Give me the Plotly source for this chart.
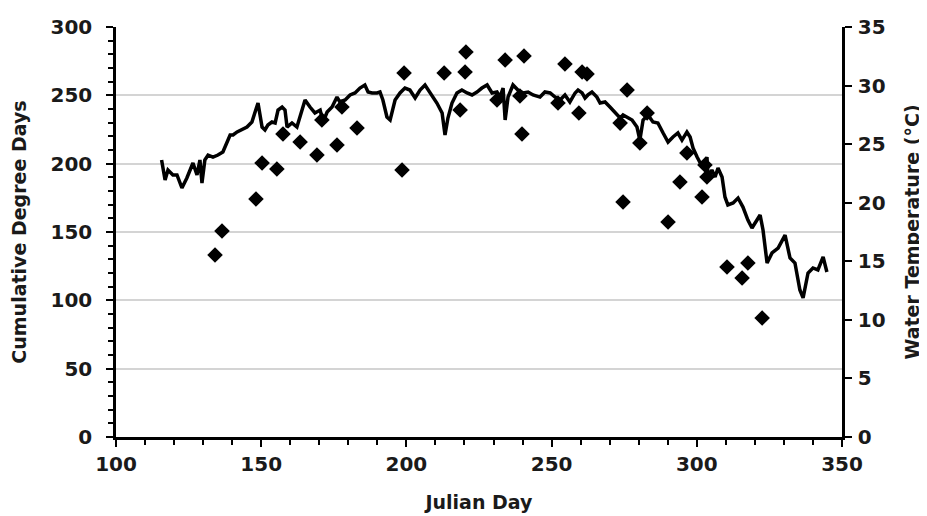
import plotly.graph_objects as go

# Cumulative degree days (diamonds, left axis)
cdd_day = [134.1, 136.5, 148.2, 150.3, 155.4, 157.5, 163.4, 169.2, 170.9, 176.1,
           177.8, 183.0, 198.5, 199.2, 213.0, 218.5, 220.2, 220.5, 231.2, 234.0,
           239.8, 240.5, 239.1, 252.2, 254.6, 260.5, 262.2, 259.4, 273.6, 276.0,
           274.6, 282.9, 280.4, 296.6, 294.2, 302.8, 303.5, 301.8, 290.1, 310.4,
           317.6, 315.6, 322.5]
cdd_val = [133.2, 150.7, 174.1, 200.5, 196.1, 221.7, 215.8, 206.3, 231.9, 213.7,
           241.5, 226.1, 195.4, 266.3, 266.3, 239.3, 267.1, 281.7, 246.6, 275.8,
           221.7, 278.8, 249.5, 244.4, 272.9, 267.1, 265.6, 237.1, 229.7, 253.9,
           171.9, 237.1, 215.1, 207.8, 186.6, 199.0, 190.2, 175.6, 157.3, 124.4,
           127.3, 116.3, 87.1]

# Water temperature (line, right axis)
wt_day = [115.7, 116.9, 117.9, 119.6, 121.0, 122.7, 124.4, 125.5, 126.5, 127.9,
          128.9, 129.6, 130.6, 131.7, 133.4, 135.1, 136.8, 139.3, 140.3, 141.7,
          143.4, 145.1, 146.8, 148.9, 150.3, 151.3, 152.3, 153.7, 154.8, 155.8,
          157.2, 158.2, 158.9, 160.6, 162.3, 165.1, 166.8, 168.5, 170.3, 171.3,
          172.7, 174.4, 176.1, 177.1, 178.9, 180.6, 182.3, 184.0, 185.7, 186.8,
          188.2, 189.9, 190.9, 191.9, 193.3, 194.4, 196.1, 197.8, 199.5, 201.2,
          203.0, 204.7, 206.4, 208.1, 210.5, 212.3, 213.3, 214.3, 215.7, 217.4,
          219.1, 220.9, 222.6, 224.3, 226.0, 227.8, 229.5, 231.2, 232.2, 233.3,
          234.0, 235.0, 236.7, 238.4, 240.2, 241.9, 243.6, 246.0, 247.7, 249.5,
          251.2, 252.9, 254.6, 256.3, 258.1, 259.1, 260.5, 261.5, 262.5, 263.9,
          265.6, 266.7, 268.4, 270.1, 271.8, 273.6, 274.6, 276.0, 277.7, 279.4,
          280.4, 281.5, 283.2, 284.9, 286.6, 288.4, 290.1, 291.8, 293.5, 294.9,
          296.6, 297.7, 298.7, 300.1, 301.1, 302.1, 303.5, 303.9, 305.2, 306.3,
          307.3, 308.7, 309.7, 310.7, 312.5, 314.2, 315.9, 317.6, 319.0, 320.7,
          321.8, 322.8, 324.2, 325.9, 328.0, 330.4, 332.1, 333.8, 335.5, 336.6,
          338.3, 340.0, 341.7, 343.5, 344.8]
wt_val = [23.65, 21.94, 22.79, 22.37, 22.37, 21.26, 22.11, 22.79, 23.39, 22.37,
          23.65, 21.68, 23.65, 24.07, 23.90, 24.07, 24.33, 25.78, 25.78, 26.04,
          26.21, 26.46, 26.89, 28.51, 26.46, 26.21, 26.63, 26.89, 26.81, 27.91,
          28.17, 27.91, 26.46, 26.81, 26.46, 28.77, 28.17, 27.66, 27.91, 26.89,
          27.74, 28.17, 29.02, 28.60, 28.77, 29.20, 29.37, 29.79, 30.05, 29.45,
          29.37, 29.37, 29.45, 28.77, 27.32, 27.06, 28.77, 29.37, 29.79, 29.62,
          28.94, 29.62, 30.05, 29.45, 28.51, 27.66, 25.78, 27.23, 28.51, 29.37,
          29.62, 29.37, 29.20, 29.45, 29.79, 30.05, 29.37, 29.45, 29.02, 29.79,
          27.06, 29.02, 30.05, 29.62, 29.37, 29.45, 29.20, 29.02, 29.45, 29.37,
          29.02, 28.77, 29.20, 28.60, 29.37, 29.62, 29.37, 28.94, 29.20, 29.45,
          29.02, 28.51, 28.60, 28.17, 27.66, 27.23, 27.49, 27.32, 27.06, 26.46,
          25.35, 27.06, 27.49, 26.89, 26.81, 25.95, 25.18, 25.61, 25.95, 25.35,
          26.04, 25.61, 24.67, 23.90, 23.39, 22.96, 23.90, 22.20, 22.79, 22.20,
          22.96, 22.20, 20.49, 19.81, 19.98, 20.40, 19.63, 18.52, 17.84, 18.52,
          18.95, 17.67, 14.85, 15.71, 16.13, 17.24, 15.28, 14.85, 12.55, 11.87,
          14.00, 14.43, 14.26, 15.37, 14.09]

x_ticks = [100, 150, 200, 250, 300, 350]
y_ticks = [0, 50, 100, 150, 200, 250, 300]
y2_ticks = [0, 5, 10, 15, 20, 25, 30, 35]

FONT = "DejaVu Sans, Liberation Sans, Arial, sans-serif"
tickfont = dict(family=FONT, size=20, color="#1a1a1a", weight="bold")
titlefont = dict(family=FONT, size=19, color="#1a1a1a", weight="bold")

fig = go.Figure()
fig.add_trace(go.Scatter(x=cdd_day, y=cdd_val, mode="markers",
                         marker=dict(symbol="diamond", size=12, color="black"),
                         showlegend=False, yaxis="y"))
fig.add_trace(go.Scatter(x=wt_day, y=wt_val, mode="lines",
                         line=dict(color="black", width=3.5),
                         showlegend=False, yaxis="y2"))

fig.update_layout(
    width=919, height=508,
    margin=dict(l=108, r=85, t=19, b=79, autoexpand=False),
    plot_bgcolor="white", paper_bgcolor="white",
    xaxis=dict(range=[100, 350], tickvals=x_ticks, showgrid=False, zeroline=False,
               showline=True, linecolor="black", linewidth=2.5,
               ticks="outside", ticklen=7, tickwidth=2, tickcolor="black",
               minor=dict(dtick=10, ticks="outside", ticklen=5, tickwidth=2,
                          tickcolor="black", showgrid=False),
               tickfont=tickfont, ticklabelstandoff=0,
               title=dict(text="Julian Day", font=titlefont, standoff=21)),
    yaxis=dict(range=[0, 300], tickvals=y_ticks, showgrid=True,
               gridcolor="#d4d4d4", gridwidth=1.5, zeroline=False,
               showline=True, linecolor="black", linewidth=2.5,
               ticks="outside", ticklen=7, tickwidth=2, tickcolor="black",
               minor=dict(dtick=10, ticks="outside", ticklen=5, tickwidth=2,
                          tickcolor="black", showgrid=False),
               tickfont=tickfont, ticklabelstandoff=10,
               title=dict(text="Cumulative Degree Days", font=titlefont, standoff=20)),
    yaxis2=dict(range=[0, 35], tickvals=y2_ticks, overlaying="y", side="right",
                showgrid=False, zeroline=False,
                showline=True, linecolor="black", linewidth=2.5,
                ticks="outside", ticklen=7, tickwidth=2, tickcolor="black",
                tickfont=tickfont, ticklabelstandoff=2,
                title=dict(text="Water Temperature (°C)", font=titlefont, standoff=22)),
)

fig.write_html("out.html")
